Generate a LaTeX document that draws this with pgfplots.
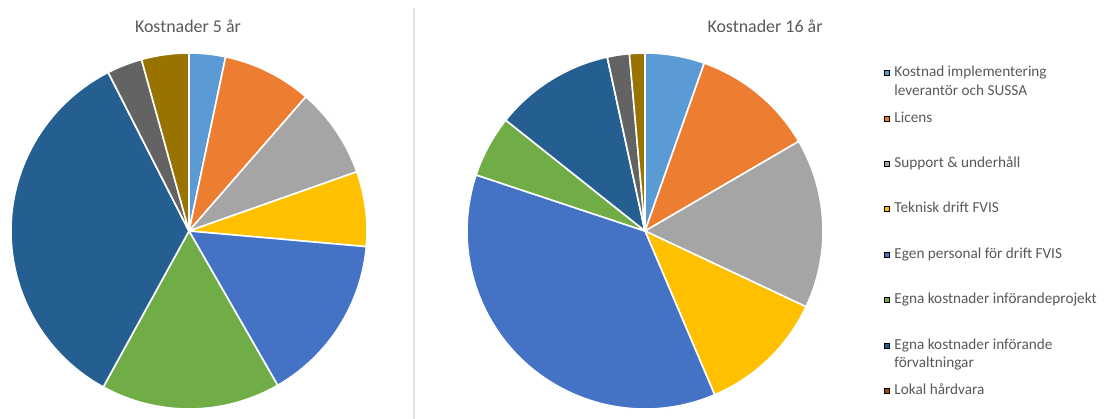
\documentclass[border=0pt]{standalone}
\usepackage{fontspec}
\setmainfont{Carlito}
\usepackage{pgfplots}
\usepackage{pgfplotstable}
\pgfplotsset{compat=1.18}

\definecolor{c1}{HTML}{5B9BD5}
\definecolor{c2}{HTML}{ED7D31}
\definecolor{c3}{HTML}{A5A5A5}
\definecolor{c4}{HTML}{FFC000}
\definecolor{c5}{HTML}{4472C4}
\definecolor{c6}{HTML}{70AD47}
\definecolor{c7}{HTML}{255E91}
\definecolor{c8}{HTML}{9E480E}
\definecolor{c9}{HTML}{636363}
\definecolor{c10}{HTML}{997300}
\definecolor{titlegray}{HTML}{595959}
\definecolor{divider}{HTML}{E3E3E3}

% share (percent) and cumulative start (percent), clockwise from 12 o'clock
\pgfplotstableread{
v s col
3.3 0.0 c1
8.1 3.3 c2
8.2 11.4 c3
6.8 19.6 c4
15.3 26.4 c5
16.3 41.7 c6
34.5 58.0 c7
0.0 92.5 c8
3.2 92.5 c9
4.3 95.7 c10
}\fiveyr

\pgfplotstableread{
v s col
5.4 0.0 c1
11.2 5.4 c2
15.4 16.6 c3
11.6 32.0 c4
36.5 43.6 c5
5.6 80.1 c6
10.9 85.7 c7
0.0 96.6 c8
2.0 96.6 c9
1.4 98.6 c10
}\sixteenyr

\pgfkeys{/pie/a1/.initial=90, /pie/a2/.initial=90}
\pgfdeclareplotmark{wedge}{%
  \pgfpathmoveto{\pgfpointorigin}%
  \pgfpathlineto{\pgfpointpolar{\pgfkeysvalueof{/pie/a1}}{178bp}}%
  \pgfpatharc{\pgfkeysvalueof{/pie/a1}}{\pgfkeysvalueof{/pie/a2}}{178bp}%
  \pgfpathclose
  \pgfusepathqfillstroke
}

\newcommand\pieslices[1]{%
  \pgfplotstablegetrowsof{#1}%
  \pgfmathtruncatemacro\lastrow{\pgfplotsretval-1}%
  \pgfplotsforeachungrouped \i in {0,...,\lastrow}{%
    \pgfplotstablegetelem{\i}{v}\of{#1}\let\pv\pgfplotsretval
    \pgfplotstablegetelem{\i}{s}\of{#1}\let\ps\pgfplotsretval
    \pgfplotstablegetelem{\i}{col}\of{#1}\let\pc\pgfplotsretval
    \pgfmathsetmacro\aone{90-3.6*\ps}%
    \pgfmathsetmacro\atwo{90-3.6*(\ps+\pv)}%
    \edef\temp{\noexpand\addplot[forget plot, only marks, mark=wedge,
       mark options={fill=\pc, draw=white, line width=1.6bp, line join=round,
       /pie/a1=\aone, /pie/a2=\atwo}] coordinates {(0,0)};}%
    \temp
  }%
}

\pgfplotsset{
  pieaxis/.style={
    anchor=center, x=178bp, y=178bp,
    xmin=-1, xmax=1, ymin=-1, ymax=1,
    hide axis, clip=false,
  },
}

\begin{document}
\begin{tikzpicture}
\useasboundingbox (0bp,0bp) rectangle (1104bp,-419bp);
\fill[white] (0bp,0bp) rectangle (1104bp,-419bp);
\draw[line width=1.6bp, divider] (414bp,-8bp) -- (414bp,-419bp);

\node[font=\fontsize{18}{22}\selectfont, text=titlegray] at (188bp,-26bp) {Kostnader 5 år};
\node[font=\fontsize{18}{22}\selectfont, text=titlegray] at (765bp,-26bp) {Kostnader 16 år};

\begin{axis}[pieaxis, at={(189bp,-231bp)}]
\pieslices{\fiveyr}
\end{axis}

\begin{axis}[pieaxis, at={(645bp,-231bp)},
  legend image code/.code={\draw[#1] (0bp,1.2bp) rectangle (5bp,6.2bp);},
  legend cell align=left,
  legend style={at={(1.170,0.9646)}, anchor=north west, draw=none, fill=none,
    inner sep=0pt, outer sep=0pt, column sep=5.5bp, row sep=0pt,
    font=\fontsize{15.3}{19}\selectfont, text=titlegray,
    nodes={inner sep=0pt, outer sep=0pt, anchor=base west, text height=11bp, text depth=34.4bp}},
]
\pieslices{\sixteenyr}
\addlegendimage{fill=c1, draw=none}
\addlegendentry{\parbox[t]{220bp}{\raggedright Kostnad implementering\\leverantör och SUSSA}}
\addlegendimage{fill=c2, draw=none}
\addlegendentry{Licens}
\addlegendimage{fill=c3, draw=none}
\addlegendentry{Support \& underhåll}
\addlegendimage{fill=c4, draw=none}
\addlegendentry{Teknisk drift FVIS}
\addlegendimage{fill=c5, draw=none}
\addlegendentry{Egen personal för drift FVIS}
\addlegendimage{fill=c6, draw=none}
\addlegendentry{Egna kostnader införandeprojekt}
\addlegendimage{fill=c7, draw=none}
\addlegendentry{\parbox[t]{220bp}{\raggedright Egna kostnader införande\\förvaltningar}}
\addlegendimage{fill=c8, draw=none}
\addlegendentry{Lokal hårdvara}
\end{axis}
\end{tikzpicture}
\end{document}
